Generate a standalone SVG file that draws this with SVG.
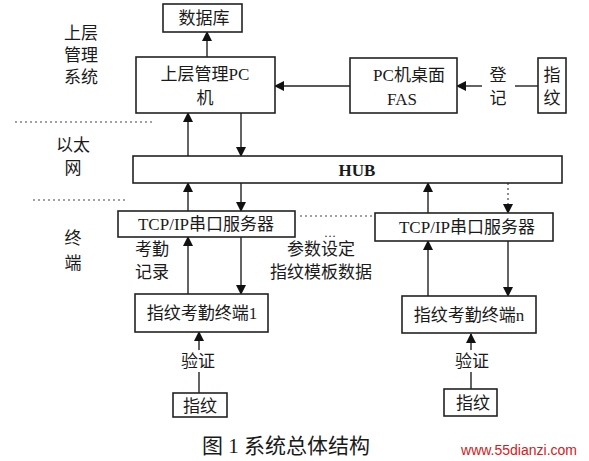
<svg xmlns="http://www.w3.org/2000/svg" width="589" height="461" viewBox="0 0 589 461">
<defs>
<marker id="ah" markerWidth="10" markerHeight="10" refX="9" refY="5" orient="auto" markerUnits="userSpaceOnUse">
<path d="M0,0 L10,5 L0,10 Z" fill="#111"/>
</marker>
<style>
.box{fill:#fff;stroke:#222;stroke-width:1.6}
.t{font-family:"Liberation Serif","Noto Sans CJK SC",serif;font-size:17px;fill:#1a1a1a;text-anchor:middle}
.c{stroke:#222;stroke-width:1.4;fill:none}
.d{stroke:#444;stroke-width:1.2;fill:none;stroke-dasharray:2 3}
</style>
</defs>
<rect width="589" height="461" fill="#fff"/>

<!-- side labels -->
<g id="labels">
<text class="t" x="81" y="39">上层</text>
<text class="t" x="81" y="61">管理</text>
<text class="t" x="81" y="83">系统</text>
<text class="t" x="73" y="151">以太</text>
<text class="t" x="73" y="174">网</text>
<text class="t" x="73" y="244">终</text>
<text class="t" x="73" y="269">端</text>
<text class="t" x="152" y="255">考勤</text>
<text class="t" x="152" y="278">记录</text>
<text class="t" x="321" y="255">参数设定</text>
<text class="t" x="321" y="278">指纹模板数据</text>
<text class="t" x="498" y="81">登</text>
<text class="t" x="498" y="104">记</text>
<text class="t" x="198" y="367">验证</text>
<text class="t" x="472" y="367">验证</text>
<text class="t" x="330" y="237" style="font-size:12px">…</text>
</g>

<g id="connectors">
<line class="d" x1="15" y1="122" x2="154" y2="122"/>
<line class="d" x1="33" y1="200" x2="125" y2="200"/>
<line class="d" x1="300" y1="216" x2="372" y2="216"/>
<line class="c" x1="207" y1="57" x2="207" y2="32" marker-end="url(#ah)"/>
<line class="c" x1="350" y1="86" x2="275" y2="86" marker-end="url(#ah)"/>
<line class="c" x1="482" y1="86" x2="457" y2="86" marker-end="url(#ah)"/>
<line class="c" x1="515" y1="86" x2="538" y2="86"/>
<line class="c" x1="188" y1="156" x2="188" y2="113" marker-end="url(#ah)"/>
<line class="c" x1="241" y1="113" x2="241" y2="156" marker-end="url(#ah)"/>
<line class="c" x1="188" y1="211" x2="188" y2="183" marker-end="url(#ah)"/>
<line class="c" x1="241" y1="183" x2="241" y2="211" marker-end="url(#ah)"/>
<line class="c" x1="188" y1="294" x2="188" y2="237" marker-end="url(#ah)"/>
<line class="c" x1="241" y1="237" x2="241" y2="294" marker-end="url(#ah)"/>
<line class="c" x1="428" y1="213" x2="428" y2="183" marker-end="url(#ah)"/>
<line class="d" x1="508" y1="183" x2="508" y2="213" marker-end="url(#ah)"/>
<line class="c" x1="428" y1="296" x2="428" y2="241" marker-end="url(#ah)"/>
<line class="c" x1="508" y1="241" x2="508" y2="296" marker-end="url(#ah)"/>
<line class="c" x1="199" y1="350" x2="199" y2="332" marker-end="url(#ah)"/>
<line class="c" x1="199" y1="372" x2="199" y2="393"/>
<line class="c" x1="471" y1="350" x2="471" y2="334" marker-end="url(#ah)"/>
<line class="c" x1="471" y1="372" x2="471" y2="389"/>
</g>

<g id="db">
<rect class="box" x="163" y="4" width="79" height="28"/>
<text class="t" x="204" y="24">数据库</text>
</g>
<g id="pc">
<rect class="box" x="136" y="57" width="139" height="56"/>
<text class="t" x="205" y="80">上层管理PC</text>
<text class="t" x="205" y="104">机</text>
</g>
<g id="fas">
<rect class="box" x="350" y="58" width="107" height="55"/>
<text class="t" x="409" y="81">PC机桌面</text>
<text class="t" x="402" y="105">FAS</text>
</g>
<g id="fp-top">
<rect class="box" x="538" y="58" width="28" height="55"/>
<text class="t" x="552" y="81">指</text>
<text class="t" x="552" y="104">纹</text>
</g>
<g id="hub">
<rect class="box" x="133" y="156" width="429" height="27"/>
<text class="t" x="357" y="176" style="font-weight:bold">HUB</text>
</g>
<g id="tcp1">
<rect class="box" x="118" y="211" width="177" height="26"/>
<text class="t" x="206" y="230">TCP/IP串口服务器</text>
</g>
<g id="tcp2">
<rect class="box" x="375" y="213" width="178" height="28"/>
<text class="t" x="467" y="233">TCP/IP串口服务器</text>
</g>
<g id="term1">
<rect class="box" x="135" y="294" width="133" height="38"/>
<text class="t" x="202" y="319">指纹考勤终端1</text>
</g>
<g id="termn">
<rect class="box" x="402" y="296" width="134" height="37"/>
<text class="t" x="469" y="321">指纹考勤终端n</text>
</g>
<g id="fp1">
<rect class="box" x="173" y="393" width="54" height="24"/>
<text class="t" x="200" y="412">指纹</text>
</g>
<g id="fpn">
<rect class="box" x="444" y="389" width="53" height="27"/>
<text class="t" x="473" y="409">指纹</text>
</g>
<g id="caption">
<text class="t" x="286" y="453" style="font-size:21px">图 1 系统总体结构</text>
<text x="519" y="455" style="font-family:'Liberation Sans',sans-serif;font-size:14px;fill:#d02020;text-anchor:middle">www.55dianzi.com</text>
</g>
</svg>
